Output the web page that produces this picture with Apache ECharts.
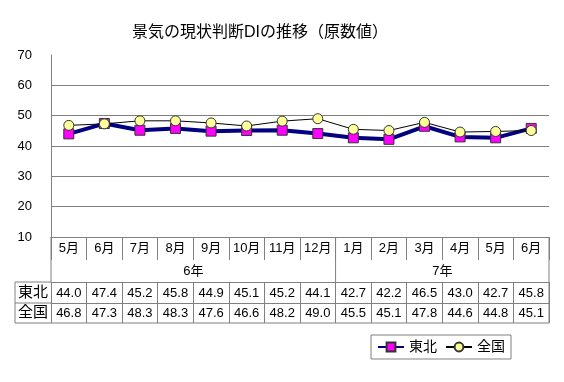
<!DOCTYPE html>
<html><head><meta charset="utf-8">
<script src="https://cdn.jsdelivr.net/npm/echarts@6/dist/echarts.min.js"></script>
<style>html,body{margin:0;padding:0;background:#fff}#c{width:564px;height:382px}</style>
</head><body><div id="c"></div>
<script>
const months = ['5月','6月','7月','8月','9月','10月','11月','12月','1月','2月','3月','4月','5月','6月'];
const years = [{label:'6年', from:0, to:7},{label:'7年', from:8, to:13}];
const tohoku = [44.0,47.4,45.2,45.8,44.9,45.1,45.2,44.1,42.7,42.2,46.5,43.0,42.7,45.8];
const zenkoku = [46.8,47.3,48.3,48.3,47.6,46.6,48.2,49.0,45.5,45.1,47.8,44.6,44.8,45.1];
const yTicks = [10,20,30,40,50,60,70];

const FONT = "'Liberation Sans','Noto Sans CJK JP',sans-serif";
const GRAY = '#808080';
const chart = echarts.init(document.getElementById('c'), null, {renderer:'canvas'});

const rowH = {month:23, year:22, data1:21, data2:20};

chart.setOption({
  animation:false,
  textStyle:{fontFamily:FONT, color:'#000'},
  title:{text:'景気の現状判断DIの推移（原数値）', left:127, top:20,
    textStyle:{fontFamily:FONT, fontSize:16, fontWeight:'normal', color:'#000'}},
  grid:{left:51, right:15, top:55, bottom:145},
  legend:{left:371, top:335, orient:'horizontal', padding:[5,6,5,6], borderColor:GRAY, borderWidth:1,
    itemWidth:26, itemHeight:11, itemGap:8,
    textStyle:{fontSize:14, fontFamily:FONT, color:'#000'},
    data:['東北','全国']},
  yAxis:{type:'value', min:yTicks[0], max:yTicks[yTicks.length-1], interval:10,
    axisLine:{show:true, lineStyle:{color:GRAY, width:1}},
    axisTick:{show:false},
    axisLabel:{margin:19, fontSize:13, color:'#000', fontFamily:FONT},
    splitLine:{show:true, lineStyle:{color:[GRAY,GRAY,GRAY,GRAY,GRAY,GRAY,'rgba(0,0,0,0)'], width:1}}},
  xAxis:[
    {type:'category', data:months, position:'bottom', boundaryGap:true,
      axisLine:{show:true, lineStyle:{color:GRAY}},
      axisTick:{show:true, interval:0, length:rowH.month, lineStyle:{color:GRAY}},
      axisLabel:{interval:0, margin:5, fontSize:13, color:'#000', fontFamily:FONT}},
    {type:'category', data:tohoku.map(v=>v.toFixed(1)), position:'bottom', offset:rowH.month+rowH.year, boundaryGap:true,
      axisLine:{show:true, lineStyle:{color:GRAY}},
      axisTick:{show:true, interval:0, length:rowH.data1+rowH.data2, lineStyle:{color:GRAY}},
      axisLabel:{interval:0, margin:5, fontSize:13, color:'#000', fontFamily:FONT}},
    {type:'category', data:zenkoku.map(v=>v.toFixed(1)), position:'bottom', offset:rowH.month+rowH.year+rowH.data1, boundaryGap:true,
      axisLine:{show:true, lineStyle:{color:GRAY}},
      axisTick:{show:false},
      axisLabel:{interval:0, margin:4, fontSize:13, color:'#000', fontFamily:FONT}}
  ],
  series:[
    {name:'東北', type:'line', xAxisIndex:0, data:tohoku, symbol:'rect', symbolSize:10,
      lineStyle:{color:'#000080', width:4}, itemStyle:{color:'#FF00FF', borderColor:'#333', borderWidth:1}, z:2},
    {name:'全国', type:'line', xAxisIndex:0, data:zenkoku, symbol:'circle', symbolSize:10,
      lineStyle:{color:'#000', width:1}, itemStyle:{color:'#FFFF99', borderColor:'#333', borderWidth:1}, z:3}
  ]
});

// Table frame built from the axis scale positions
const x0 = chart.convertToPixel({xAxisIndex:0}, 0);
const x1 = chart.convertToPixel({xAxisIndex:0}, 1);
const band = x1 - x0;
const left = x0 - band/2;
const right = chart.convertToPixel({xAxisIndex:0}, months.length-1) + band/2;
const yTop = chart.convertToPixel({yAxisIndex:0}, yTicks[0]);
const yYear = yTop + rowH.month;
const yD1 = yYear + rowH.year;
const yD2 = yD1 + rowH.data1;
const yBot = yD2 + rowH.data2;
const labelLeft = 15;
const ls = {stroke:GRAY, lineWidth:1};
const g = [];
function line(ax,ay,bx,by){ g.push({type:'line', shape:{x1:ax,y1:ay,x2:bx,y2:by}, style:ls, silent:true}); }
line(left, yTop, left, yD1);
line(right, yTop, right, yBot);
line(labelLeft, yD1, left, yD1);
line(labelLeft, yD2, left, yD2);
line(labelLeft, yBot, right, yBot);
line(labelLeft, yD1, labelLeft, yBot);
years.forEach((yr, i) => {
  const a = chart.convertToPixel({xAxisIndex:0}, yr.from) - band/2;
  const b = chart.convertToPixel({xAxisIndex:0}, yr.to) + band/2;
  if (i > 0) line(a, yTop, a, yD1);
  g.push({type:'text', x:(a+b)/2, y:(yYear+yD1)/2, silent:true,
    style:{text:yr.label, fill:'#000', font:'13px '+FONT, textAlign:'center', textVerticalAlign:'middle'}});
});
[['東北', (yD1+yD2)/2], ['全国', (yD2+yBot)/2]].forEach(([t, y]) => {
  g.push({type:'text', x:(labelLeft+left)/2, y:y, silent:true,
    style:{text:t, fill:'#000', font:'15px '+FONT, textAlign:'center', textVerticalAlign:'middle'}});
});
chart.setOption({graphic:g});
</script></body></html>
